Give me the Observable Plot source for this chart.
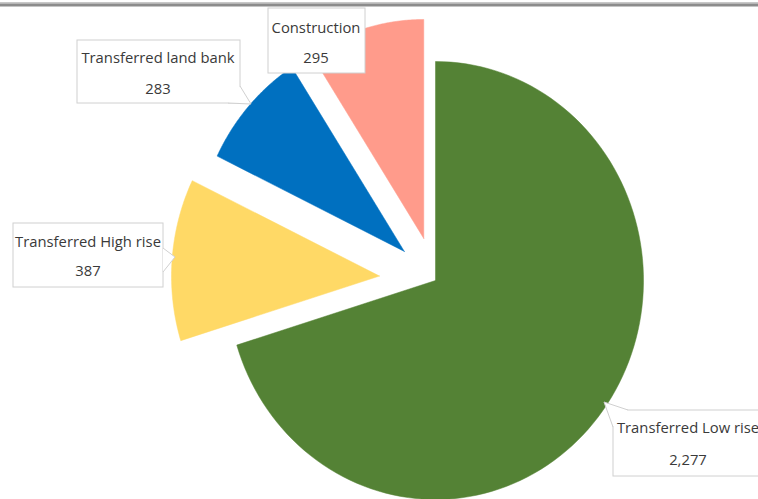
<!DOCTYPE html>
<html>
<head>
<meta charset="utf-8">
<script src="https://cdn.jsdelivr.net/npm/d3@7"></script>
<script src="https://cdn.jsdelivr.net/npm/@observablehq/plot@0.6"></script>
<style>
  html, body { margin: 0; padding: 0; background: #fff; }
  #chart { position: relative; width: 758px; height: 499px; overflow: hidden; }
  #chart svg { display: block; }
</style>
</head>
<body>
<div id="chart"></div>
<script>
// ---- data ----
const categories = ["Transferred Low rise", "Transferred High rise", "Transferred land bank", "Construction"];
const values = [2277, 387, 283, 295];
const valueLabels = ["2,277", "387", "283", "295"];

// ---- styling ----
const colors = ["#548235", "#FFD966", "#0070C0", "#FF9B8B"];
const explode = [0, 0.27, 0.2, 0.2];
const W = 758, H = 499;
const CX = 435, CY = 280, RX = 208, RY = 219;

const total = d3.sum(values);
let acc = 0;
const slices = values.map((v, i) => {
  const a0 = acc / total * 2 * Math.PI;
  acc += v;
  const a1 = acc / total * 2 * Math.PI;
  const mid = (a0 + a1) / 2;
  const ox = explode[i] * Math.sin(mid), oy = explode[i] * Math.cos(mid);
  const pts = [{x: ox, y: oy}];
  const n = 120;
  for (let k = 0; k <= n; k++) {
    const a = a0 + (a1 - a0) * k / n;
    pts.push({x: ox + Math.sin(a), y: oy + Math.cos(a)});
  }
  pts.push({x: ox, y: oy});
  return {category: categories[i], value: v, color: colors[i], points: pts};
});

const plot = Plot.plot({
  width: W,
  height: H,
  margin: 0,
  style: {background: "#fff", overflow: "visible"},
  x: {domain: [-CX / RX, (W - CX) / RX], axis: null},
  y: {domain: [-(H - CY) / RY, CY / RY], axis: null},
  marks: slices.map(s => Plot.line(s.points, {x: "x", y: "y", fill: s.color, stroke: s.color, strokeWidth: 0.5, curve: "linear"}))
});
document.getElementById("chart").appendChild(plot);

const svg = d3.select(plot);

// top border band
svg.append("rect").attr("x", 0).attr("y", 2).attr("width", W).attr("height", 1.5).attr("fill", "#c8c8c8");
svg.append("rect").attr("x", 0).attr("y", 3.5).attr("width", W).attr("height", 3).attr("fill", "#8c8c8c");

// callouts (pixel layout)
const callouts = [
  {i: 0, box: [613, 410, 762, 476], notch: [[628, 410], [604, 402], [613, 427]], cx: 688, y1: 427, y2: 459},
  {i: 1, box: [13, 223, 163, 287], notch: [[163, 248], [175, 257], [163, 272]], cx: 88, y1: 241, y2: 270},
  {i: 2, box: [77, 40, 240, 103], notch: [[240, 86], [251, 104], [228, 103]], cx: 158, y1: 57, y2: 88},
  {i: 3, box: [268, 8, 365, 73], notch: null, cx: 316, y1: 27, y2: 57}
];

callouts.forEach(c => {
  const g = svg.append("g");
  const [x0, y0, x1, y1] = c.box;
  g.append("rect").attr("x", x0).attr("y", y0).attr("width", x1 - x0).attr("height", y1 - y0)
    .attr("fill", "#fff").attr("stroke", "#d0d0d0").attr("stroke-width", 1);
  if (c.notch) {
    const [a, t, b] = c.notch;
    g.append("path").attr("d", `M${a[0]},${a[1]}L${t[0]},${t[1]}L${b[0]},${b[1]}Z`)
      .attr("fill", "#fff").attr("stroke", "none");
    g.append("path").attr("d", `M${a[0]},${a[1]}L${t[0]},${t[1]}L${b[0]},${b[1]}`)
      .attr("fill", "none").attr("stroke", "#d0d0d0").attr("stroke-width", 1);
  }
  const txt = g.append("g").attr("font-family", "'Open Sans', sans-serif").attr("font-size", 14.8)
    .attr("fill", "#3a3a3a").attr("text-anchor", "middle").attr("dominant-baseline", "central");
  txt.append("text").attr("x", c.cx).attr("y", c.y1).text(categories[c.i]);
  txt.append("text").attr("x", c.cx).attr("y", c.y2).text(valueLabels[c.i]);
});
</script>
</body>
</html>
